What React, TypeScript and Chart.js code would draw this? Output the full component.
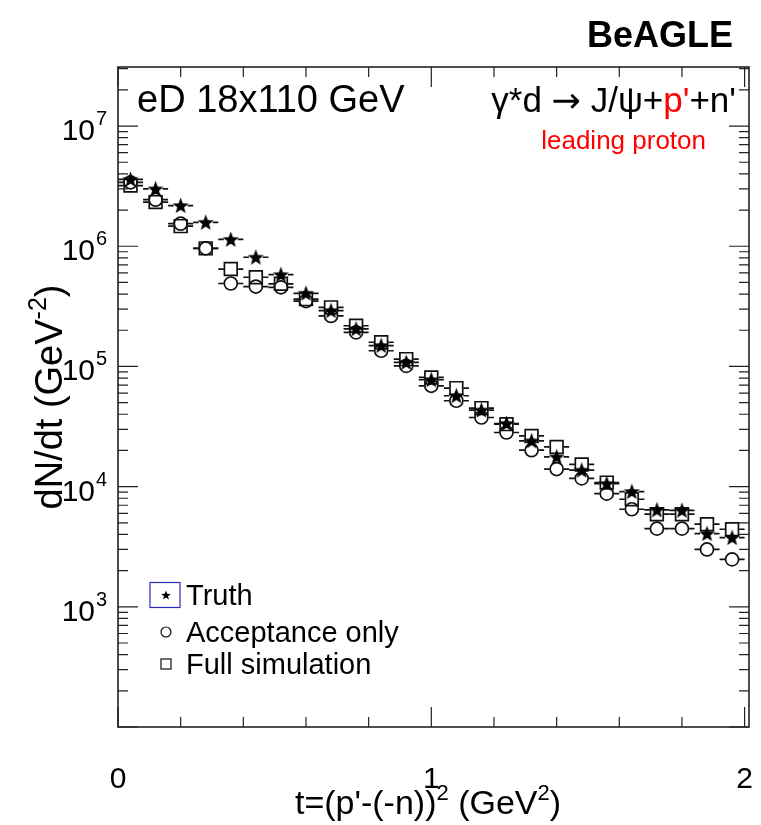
import React, { useEffect, useRef } from 'react';
import { Chart, registerables } from 'chart.js';

Chart.register(...registerables);

// ---- data ----
const tCenters = [0.04, 0.12, 0.2, 0.28, 0.36, 0.44, 0.52, 0.6, 0.68, 0.76, 0.84, 0.92, 1.0, 1.08, 1.16, 1.24, 1.32, 1.4, 1.48, 1.56, 1.64, 1.72, 1.8, 1.88, 1.96];
const binHalfWidth = 0.04;
const truthValues = [3.6e6, 3.0e6, 2.18e6, 1.58e6, 1.14e6, 8.1e5, 5.8e5, 4.06e5, 2.91e5, 2.05e5, 1.49e5, 1.08e5, 7.75e4, 5.7e4, 4.33e4, 3.35e4, 2.4e4, 1.77e4, 1.37e4, 1.06e4, 9.1e3, 6.4e3, 6.35e3, 4.06e3, 3.76e3];
const acceptanceValues = [3.4e6, 2.44e6, 1.54e6, 9.6e5, 4.9e5, 4.62e5, 4.55e5, 3.5e5, 2.63e5, 1.92e5, 1.35e5, 1.01e5, 6.9e4, 5.18e4, 3.76e4, 2.82e4, 2.01e4, 1.4e4, 1.17e4, 8.74e3, 6.48e3, 4.47e3, 4.47e3, 3.0e3, 2.48e3];
const fullSimValues = [3.2e6, 2.33e6, 1.47e6, 9.6e5, 6.46e5, 5.52e5, 4.87e5, 3.63e5, 3.1e5, 2.18e5, 1.59e5, 1.15e5, 8.1e4, 6.6e4, 4.5e4, 3.31e4, 2.64e4, 2.14e4, 1.53e4, 1.08e4, 7.85e3, 5.9e3, 5.9e3, 4.87e3, 4.42e3];
const seriesNames = ['Truth', 'Acceptance only', 'Full simulation'];
const xMajorTicks = [0, 1, 2];
const xMinorStep = 0.2;
const yDecadeExponents = [3, 4, 5, 6, 7];
const X_MIN = 0;
const X_MAX = 2.014;
const Y_MIN = 100;
const Y_MAX = 3.1e7;

const FONT = '"Liberation Sans", Arial, Helvetica, sans-serif';

function drawStarPath(ctx: CanvasRenderingContext2D, cx: number, cy: number, R: number) {
  const r = R * 0.42;
  ctx.beginPath();
  for (let i = 0; i < 10; i++) {
    const rad = i % 2 === 0 ? R : r;
    const a = -Math.PI / 2 + (i * Math.PI) / 5;
    ctx.lineTo(cx + rad * Math.cos(a), cy + rad * Math.sin(a));
  }
  ctx.closePath();
}

function makeStar(size: number, color: string) {
  const c = document.createElement('canvas');
  c.width = size;
  c.height = size;
  const ctx = c.getContext('2d')!;
  drawStarPath(ctx, size / 2, size / 2 + 0.6, size / 2);
  ctx.fillStyle = color;
  ctx.fill();
  return c;
}

// draws base + superscript pieces
function drawPieces(ctx: CanvasRenderingContext2D, pieces: { t: string; sup?: boolean; color?: string; font?: string }[], x: number, y: number, size: number, align: 'left' | 'center' | 'right', weight = 'normal') {
  const supSize = Math.round(size * 0.66);
  const fontOf = (p: any) => `${weight} ${p.sup ? supSize : size}px ${p.font || FONT}`;
  const widths = pieces.map((p) => {
    ctx.font = fontOf(p);
    return ctx.measureText(p.t).width;
  });
  const total = widths.reduce((a, b) => a + b, 0);
  let cx = align === 'left' ? x : align === 'center' ? x - total / 2 : x - total;
  ctx.textAlign = 'left';
  ctx.textBaseline = 'alphabetic';
  pieces.forEach((p, i) => {
    ctx.font = fontOf(p);
    ctx.fillStyle = p.color || '#000';
    ctx.fillText(p.t, cx, p.sup ? y - size * 0.42 : y);
    cx += widths[i];
  });
}

const rootStylePlugin = {
  id: 'rootStyle',
  beforeDatasetsDraw(chart: any) {
    const ctx = chart.ctx as CanvasRenderingContext2D;
    const xs = chart.scales.x;
    const ys = chart.scales.y;
    const gap = 7;
    ctx.save();
    ctx.strokeStyle = '#111';
    ctx.lineWidth = 1.7;
    chart.data.datasets.forEach((ds: any) => {
      ds.data.forEach((pt: any) => {
        const x0 = xs.getPixelForValue(pt.x - binHalfWidth);
        const x1 = xs.getPixelForValue(pt.x + binHalfWidth);
        const xc = xs.getPixelForValue(pt.x);
        const yc = ys.getPixelForValue(pt.y);
        ctx.beginPath();
        ctx.moveTo(x0, yc);
        ctx.lineTo(xc - gap, yc);
        ctx.moveTo(xc + gap, yc);
        ctx.lineTo(x1, yc);
        ctx.stroke();
      });
    });
    ctx.restore();
  },
  afterDraw(chart: any) {
    const ctx = chart.ctx as CanvasRenderingContext2D;
    const xs = chart.scales.x;
    const ys = chart.scales.y;
    const { left, right, top, bottom } = chart.chartArea;
    ctx.save();
    // frame
    ctx.strokeStyle = '#222';
    ctx.lineWidth = 1.6;
    ctx.strokeRect(left, top, right - left, bottom - top);

    // x ticks
    ctx.lineWidth = 1.2;
    ctx.beginPath();
    for (let v = X_MIN; v <= 2.0001; v += xMinorStep) {
      const px = xs.getPixelForValue(v);
      const major = xMajorTicks.some((m) => Math.abs(m - v) < 1e-6);
      const len = major ? 20 : 10;
      ctx.moveTo(px, bottom);
      ctx.lineTo(px, bottom - len);
      ctx.moveTo(px, top);
      ctx.lineTo(px, top + len);
    }
    // y ticks (log)
    for (let e = 2; e <= 7; e++) {
      for (let m = 1; m <= 9; m++) {
        const v = m * Math.pow(10, e);
        if (v < Y_MIN || v > Y_MAX) continue;
        const py = ys.getPixelForValue(v);
        const len = m === 1 ? 20 : 10;
        ctx.moveTo(left, py);
        ctx.lineTo(left + len, py);
        ctx.moveTo(right, py);
        ctx.lineTo(right - len, py);
      }
    }
    ctx.stroke();

    // x tick labels
    ctx.fillStyle = '#000';
    ctx.font = `30px ${FONT}`;
    ctx.textAlign = 'center';
    ctx.textBaseline = 'alphabetic';
    xMajorTicks.forEach((v) => {
      ctx.fillText(String(v), xs.getPixelForValue(v), 788);
    });

    // y tick labels 10^n
    yDecadeExponents.forEach((e) => {
      const py = ys.getPixelForValue(Math.pow(10, e));
      ctx.font = `30px ${FONT}`;
      ctx.textAlign = 'right';
      ctx.fillStyle = '#000';
      ctx.fillText('10', 95, py + 14);
      ctx.font = `20px ${FONT}`;
      ctx.textAlign = 'left';
      ctx.fillText(String(e), 96, py - 1);
    });

    // axis titles
    drawPieces(ctx, [{ t: "t=(p'-(-n))" }, { t: '2', sup: true }, { t: ' (GeV' }, { t: '2', sup: true }, { t: ')' }], 428, 814, 34, 'center');
    ctx.save();
    ctx.translate(62, 397);
    ctx.rotate(-Math.PI / 2);
    drawPieces(ctx, [{ t: 'dN/dt (GeV' }, { t: '-2', sup: true }, { t: ')' }], 0, 0, 38, 'center');
    ctx.restore();

    // annotations
    drawPieces(ctx, [{ t: 'BeAGLE' }], 733, 47, 36, 'right', 'bold');
    drawPieces(ctx, [{ t: 'eD 18x110 GeV' }], 137, 112, 38, 'left');
    drawPieces(ctx, [{ t: 'γ*d ' }, { t: '→', font: '"DejaVu Sans", sans-serif' }, { t: ' J/ψ+' }, { t: "p'", color: '#f00' }, { t: "+n'" }], 736, 112, 35, 'right');
    drawPieces(ctx, [{ t: 'leading proton', color: '#f00' }], 706, 149, 26, 'right');

    // legend
    const lx = 166;
    const rows = [595, 632, 664];
    ctx.strokeStyle = '#2a2ab8';
    ctx.lineWidth = 1.2;
    ctx.strokeRect(150, 582.5, 30, 25);
    ctx.fillStyle = '#000';
    drawStarPath(ctx, lx, rows[0] + 0.5, 5);
    ctx.fill();
    ctx.strokeStyle = '#111';
    ctx.lineWidth = 1.2;
    ctx.beginPath();
    ctx.arc(lx, rows[1], 5, 0, Math.PI * 2);
    ctx.stroke();
    ctx.strokeRect(lx - 5, rows[2] - 5, 10, 10);
    ctx.fillStyle = '#000';
    ctx.font = `29px ${FONT}`;
    ctx.textAlign = 'left';
    ctx.textBaseline = 'alphabetic';
    ctx.fillText(seriesNames[0], 186, 605);
    ctx.fillText(seriesNames[1], 186, 642);
    ctx.fillText(seriesNames[2], 186, 674);
    ctx.restore();
  },
};

export default function App() {
  const canvasRef = useRef<HTMLCanvasElement | null>(null);

  useEffect(() => {
    const canvas = canvasRef.current;
    if (!canvas) return;
    const starImg = makeStar(17, '#000');
    const toPts = (vals: number[]) => tCenters.map((x, i) => ({ x, y: vals[i] }));
    const chart = new Chart(canvas, {
      type: 'scatter',
      data: {
        datasets: [
          {
            label: seriesNames[0],
            data: toPts(truthValues),
            pointStyle: starImg as any,
            pointRadius: 8,
            backgroundColor: '#000',
            borderColor: '#000',
          },
          {
            label: seriesNames[1],
            data: toPts(acceptanceValues),
            pointStyle: 'circle',
            pointRadius: 6.5,
            backgroundColor: 'rgba(0,0,0,0)',
            borderColor: '#111',
            borderWidth: 1.7,
          },
          {
            label: seriesNames[2],
            data: toPts(fullSimValues),
            pointStyle: 'rect',
            pointRadius: 9,
            backgroundColor: 'rgba(0,0,0,0)',
            borderColor: '#111',
            borderWidth: 1.7,
          },
        ],
      },
      options: {
        responsive: false,
        animation: false,
        devicePixelRatio: 1,
        layout: { padding: { left: 118, right: 12, top: 67, bottom: 98 } },
        plugins: { legend: { display: false }, tooltip: { enabled: false } },
        scales: {
          x: { type: 'linear', min: X_MIN, max: X_MAX, display: false },
          y: { type: 'logarithmic', min: Y_MIN, max: Y_MAX, display: false },
        },
      },
      plugins: [rootStylePlugin],
    });
    return () => chart.destroy();
  }, []);

  return (
    <div style={{ position: 'fixed', left: 0, top: 0, width: 761, height: 825, background: '#fff' }}>
      <canvas ref={canvasRef} width={761} height={825} style={{ display: 'block' }} />
    </div>
  );
}
